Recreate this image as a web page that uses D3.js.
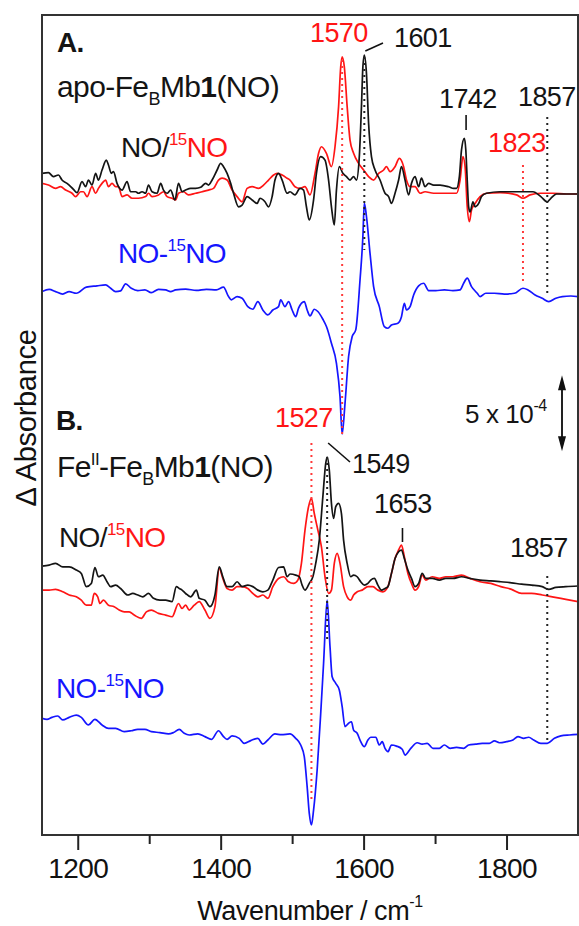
<!DOCTYPE html>
<html>
<head>
<meta charset="utf-8">
<script src="https://cdn.jsdelivr.net/npm/d3@7"></script>
<style>
  html, body { margin: 0; padding: 0; background: #fff; }
  svg { display: block; }
  text { font-family: "Liberation Sans", Arial, Helvetica, sans-serif; }
</style>
</head>
<body>
<svg id="chart" width="579" height="926"></svg>
<script>
// FTIR difference spectra, ΔA in units of 1e-4 relative to each trace's own baseline.
// Panel A: apo-FeBMb1(NO)
const apoNO = [[1150,1.36],[1159,1.41],[1166,1.14],[1173,1.25],[1178,0.92],[1185,0.70],[1194,0.31],[1199,0.09],[1206,0.81],[1211,0.48],[1215,0.92],[1220,0.59],[1225,1.36],[1229,0.92],[1234,1.58],[1240,2.23],[1243,1.91],[1247,1.36],[1250,1.47],[1255,0.70],[1262,0.26],[1269,0.81],[1274,0.15],[1281,0.15],[1285,0.05],[1290,0.15],[1295,0.05],[1299,0.59],[1304,0.15],[1311,0.05],[1316,0.70],[1320,0.26],[1325,0.05],[1330,0.26],[1336,-0.39],[1341,0.70],[1346,0.15],[1351,0.26],[1358,0.37],[1365,0.37],[1372,0.44],[1379,0.70],[1383,0.59],[1388,0.92],[1395,1.58],[1400,2.02],[1404,1.80],[1409,1.36],[1414,0.70],[1418,0.05],[1425,-0.84],[1430,-0.73],[1437,-0.17],[1444,-0.39],[1451,-0.62],[1455,-0.28],[1462,-0.51],[1467,-0.84],[1472,-0.17],[1476,0.92],[1481,1.36],[1486,0.92],[1493,0.05],[1497,0.15],[1504,-0.06],[1511,0.37],[1516,0.26],[1520,-0.84],[1524,-1.71],[1530,-0.39],[1534,1.36],[1540,2.46],[1546,2.23],[1551,0.92],[1555,-0.84],[1559,-2.04],[1562,0.26],[1566,1.80],[1571,1.36],[1576,1.14],[1581,0.92],[1586,1.14],[1590,0.92],[1594,2.46],[1597,5.75],[1599,8.38],[1601,9.14],[1604,7.94],[1607,4.65],[1611,2.46],[1616,1.58],[1623,0.92],[1630,0.05],[1635,-0.17],[1639,-0.62],[1644,0.05],[1649,0.92],[1653,1.80],[1658,0.92],[1663,-0.06],[1667,0.70],[1672,1.14],[1677,0.48],[1681,1.04],[1686,0.48],[1691,0.70],[1698,0.59],[1707,0.59],[1719,0.48],[1726,0.37],[1730,0.37],[1734,1.14],[1737,2.90],[1741,3.66],[1743,2.91],[1745,0.91],[1747,-0.84],[1749,-1.18],[1753,-0.51],[1756,-0.84],[1761,-0.62],[1765,-0.17],[1772,0.05],[1791,0.15],[1814,0.15],[1837,0.15],[1848,-0.17],[1857,-0.51],[1862,-0.28],[1870,0],[1884,0],[1900,0]];
const apo15NO = [[1150,0.70],[1159,0.59],[1169,0.37],[1176,0.48],[1183,0.26],[1192,0.05],[1197,-0.17],[1204,0.15],[1208,0.15],[1213,-0.17],[1220,0.48],[1225,0.05],[1229,0.37],[1234,0.70],[1239,0.92],[1243,0.48],[1248,0.70],[1253,0.48],[1257,0.48],[1262,-0.17],[1269,-0.06],[1276,-0.28],[1285,-0.28],[1295,-0.17],[1299,0.05],[1304,-0.17],[1313,-0.06],[1320,0.15],[1325,-0.17],[1332,-0.28],[1337,-0.39],[1341,0.05],[1348,0.15],[1355,-0.06],[1365,0.05],[1374,0.15],[1383,0.26],[1390,0.37],[1397,0.92],[1402,1.04],[1409,0.92],[1416,0.26],[1423,-0.17],[1430,-0.51],[1437,0.37],[1444,0.48],[1453,0.37],[1460,0.59],[1467,0.92],[1474,1.25],[1479,1.36],[1486,1.25],[1493,1.04],[1497,0.92],[1504,0.48],[1511,0.37],[1518,0.48],[1525,-0.06],[1532,1.36],[1537,2.68],[1541,3.11],[1548,2.68],[1555,1.80],[1560,3.11],[1565,5.75],[1568,8.38],[1570,9.03],[1573,8.38],[1577,5.75],[1581,3.55],[1586,2.68],[1593,2.02],[1600,1.58],[1607,1.14],[1614,0.92],[1621,1.36],[1628,1.58],[1632,1.80],[1637,1.47],[1644,1.80],[1650,2.34],[1656,1.80],[1660,0.92],[1665,0.48],[1672,0.48],[1679,0.05],[1686,0.15],[1698,0.05],[1716,0.05],[1730,0.05],[1735,0.92],[1739,2.46],[1742,1.80],[1745,-0.84],[1748,-1.82],[1751,-1.05],[1756,-0.62],[1763,-0.17],[1772,0.05],[1791,0.09],[1814,-0.06],[1823,-0.28],[1833,-0.06],[1847,0.05],[1865,0.05],[1884,0],[1900,0]];
const apoDiff = [[1150,-0.11],[1160,0.04],[1169,-0.11],[1179,-0.27],[1188,-0.11],[1198,-0.22],[1212,0.18],[1227,0.27],[1239,0.33],[1246,0.11],[1253,-0.11],[1260,-0.06],[1267,0.40],[1275,0.11],[1284,-0.04],[1294,0],[1303,-0.18],[1313,0.04],[1323,0],[1330,-0.11],[1337,0],[1351,0.05],[1366,-0.03],[1380,0.04],[1394,0],[1404,0.18],[1411,-0.44],[1415,-0.65],[1423,-0.44],[1430,-0.55],[1438,-1.10],[1445,-1.27],[1452,-0.77],[1459,-1.32],[1466,-1.64],[1473,-1.32],[1481,-1.10],[1484,-0.65],[1490,-1.10],[1495,-0.77],[1500,-1.32],[1505,-1.76],[1509,-1.20],[1517,-0.77],[1521,-1.32],[1525,-1.71],[1531,-1.27],[1536,-1.42],[1543,-1.93],[1548,-2.41],[1555,-3.51],[1562,-4.83],[1567,-7.02],[1570,-9.48],[1574,-7.46],[1579,-4.38],[1584,-3.07],[1589,-2.63],[1595,0.65],[1599,3.51],[1601,5.72],[1604,4.83],[1609,2.41],[1614,0.22],[1622,-1.10],[1629,-2.41],[1634,-2.52],[1639,-2.31],[1648,-2.19],[1653,-1.76],[1657,-0.88],[1660,-1.32],[1665,-1.10],[1670,-0.33],[1677,0.27],[1684,0.44],[1691,-0.04],[1701,-0.04],[1713,0],[1725,-0.04],[1735,0],[1740,0.44],[1745,0.77],[1751,0.22],[1759,-0.22],[1763,-0.44],[1771,-0.22],[1783,-0.22],[1797,-0.27],[1811,-0.22],[1823,0.11],[1830,0],[1840,-0.33],[1850,-0.55],[1859,-0.77],[1869,-0.55],[1878,-0.44],[1890,-0.40],[1900,-0.44]];

// Panel B: FeII-FeBMb1(NO)
const feNO = [[1150,0.70],[1160,0.77],[1169,0.88],[1179,0.65],[1188,0.65],[1198,0.44],[1205,0.22],[1212,-0.65],[1219,-0.44],[1224,0.61],[1229,0],[1235,0.11],[1241,-0.33],[1246,-0.65],[1253,-0.55],[1260,-0.77],[1270,-1.20],[1277,-1.10],[1284,-1.20],[1291,-1.32],[1299,-1.10],[1306,-1.42],[1315,-1.54],[1323,-1.54],[1332,-1.64],[1338,-0.65],[1342,-0.77],[1346,-0.88],[1351,-1.10],[1358,-1.32],[1366,-0.88],[1370,-1.42],[1378,-1.54],[1385,-1.97],[1392,-1.20],[1398,0.65],[1403,0],[1409,-0.65],[1416,-0.65],[1423,-0.33],[1430,-0.65],[1438,-0.55],[1445,-0.65],[1452,-0.88],[1459,-0.99],[1466,-0.88],[1473,-0.22],[1481,0.61],[1488,0.65],[1493,0],[1497,0.18],[1505,0.11],[1510,0],[1514,-0.55],[1518,-0.88],[1524,-0.44],[1529,0],[1533,0.88],[1538,2.41],[1543,5.27],[1547,7.46],[1549,7.88],[1552,7.02],[1555,4.83],[1558,3.84],[1561,4.61],[1565,4.83],[1569,4.16],[1572,2.41],[1577,0.88],[1582,0],[1586,0.11],[1591,0],[1596,-0.33],[1601,-0.55],[1606,-0.44],[1610,-0.22],[1615,-0.11],[1620,-0.55],[1625,-0.88],[1630,-0.77],[1634,-0.65],[1639,0.22],[1644,1.20],[1649,1.64],[1653,1.76],[1657,1.20],[1662,0.44],[1667,-0.11],[1672,-0.65],[1677,-0.44],[1682,0.22],[1687,-0.11],[1696,-0.11],[1706,-0.22],[1715,-0.11],[1725,-0.11],[1737,0],[1749,-0.11],[1763,-0.22],[1778,-0.27],[1792,-0.33],[1807,-0.40],[1821,-0.49],[1835,-0.55],[1850,-0.65],[1859,-0.83],[1869,-0.70],[1883,-0.65],[1900,-0.61]];
const fe15NO = [[1150,-0.88],[1160,-0.88],[1169,-0.83],[1179,-0.99],[1188,-1.20],[1198,-1.32],[1205,-1.54],[1212,-1.87],[1219,-1.87],[1223,-1.10],[1228,-1.32],[1231,-1.76],[1236,-1.54],[1243,-1.87],[1251,-1.97],[1258,-2.19],[1265,-2.31],[1272,-2.31],[1279,-2.52],[1289,-2.74],[1296,-2.31],[1303,-2.19],[1313,-2.41],[1323,-2.52],[1332,-2.63],[1341,-1.76],[1346,-2.09],[1351,-1.87],[1356,-2.19],[1363,-1.87],[1370,-1.64],[1378,-2.19],[1385,-2.74],[1392,-1.97],[1398,0.55],[1403,-0.11],[1409,-0.77],[1416,-0.88],[1423,-0.65],[1430,-0.65],[1438,-0.77],[1445,-1.10],[1452,-1.32],[1459,-1.20],[1466,-1.42],[1473,-0.65],[1481,-0.11],[1488,0],[1495,-0.33],[1502,-0.44],[1508,-0.22],[1513,0.88],[1518,3.07],[1523,4.61],[1527,5.15],[1531,4.16],[1536,3.07],[1541,1.97],[1546,0],[1551,-1.10],[1555,-0.88],[1559,0.88],[1563,1.54],[1567,0.88],[1572,-0.65],[1577,-1.32],[1582,-1.54],[1586,-1.20],[1591,-0.99],[1598,-0.88],[1606,-0.65],[1613,-0.65],[1620,-0.88],[1627,-0.99],[1634,-0.65],[1639,0.22],[1644,1.20],[1649,1.76],[1653,2.09],[1657,1.32],[1662,0.22],[1667,-0.44],[1672,-0.88],[1677,-0.65],[1682,0.11],[1687,-0.22],[1696,0],[1706,-0.11],[1715,0],[1725,0],[1737,0.11],[1749,-0.11],[1763,-0.33],[1778,-0.44],[1792,-0.65],[1807,-0.83],[1821,-1.10],[1835,-1.10],[1850,-1.20],[1864,-1.32],[1883,-1.49],[1900,-1.64]];
const feDiff = [[1150,1.42],[1157,1.36],[1164,1.49],[1172,1.58],[1179,1.32],[1188,1.49],[1198,1.64],[1205,1.49],[1215,0.99],[1224,1.36],[1234,0.99],[1243,0.77],[1253,0.77],[1265,0.55],[1275,0.61],[1284,0.70],[1294,0.70],[1303,0.55],[1315,0.49],[1327,0.40],[1334,0.49],[1342,0.70],[1349,0.44],[1356,0.33],[1368,0.40],[1378,0.22],[1387,0.04],[1397,0.61],[1404,0.22],[1409,0.04],[1416,0.27],[1426,0.11],[1433,-0.22],[1442,-0.04],[1452,0.11],[1459,-0.27],[1466,0],[1476,0.40],[1485,0.35],[1497,0.40],[1505,0.11],[1512,-0.33],[1517,-1.10],[1521,-3.07],[1524,-4.83],[1527,-5.59],[1530,-4.61],[1535,-1.97],[1540,1.76],[1544,5.05],[1549,9.21],[1553,6.14],[1556,4.16],[1561,3.73],[1566,3.29],[1570,2.19],[1574,0.88],[1579,1.10],[1583,1.20],[1586,0.65],[1591,0.44],[1596,-0.11],[1601,-0.44],[1606,0],[1610,0.18],[1617,0.18],[1622,-0.33],[1626,-0.11],[1630,-0.55],[1634,-0.77],[1639,-0.33],[1646,-0.40],[1654,-0.61],[1658,-0.99],[1666,-0.55],[1675,-0.18],[1682,-0.27],[1689,-0.22],[1697,-0.55],[1706,-0.55],[1713,-0.33],[1721,-0.55],[1730,-0.49],[1740,-0.55],[1747,-0.33],[1757,-0.27],[1766,-0.22],[1776,-0.22],[1783,-0.06],[1790,-0.18],[1800,-0.11],[1809,0],[1816,0.22],[1824,0.11],[1831,0.18],[1838,0],[1848,-0.22],[1857,-0.22],[1867,0.11],[1876,0.27],[1888,0.33],[1900,0.37]];

// Band positions marked with dotted guides: [wavenumber, top, bottom] on the stacked scale
const guidesRed = [[1570, 50.99, 26.32], [1823, 44.08, 36.40], [1527, 25.79, 2.17]];
const guidesBlack = [[1601, 51.18, 38.49], [1857, 47.24, 35.53], [1549, 24.87, 12.83], [1857, 17.04, 6.25]];

const majorTicks = [1200, 1400, 1600, 1800];
const minorTicks = [1300, 1500, 1700];

// Vertical stacking of the traces (1e-4 units)
const offsetA = 42.17, offsetADiff = 35.86, offsetB = 16.99, offsetBDiff = 6.25;
const scaleBar = [25.25, 30.25];   // 5 x 10^-4

const svg = d3.select("#chart");
const plotL = 42, plotR = 578, plotT = 15, plotB = 835;

const x = d3.scaleLinear().domain([1150, 1900]).range([plotL, plotR]);
const y = d3.scaleLinear().domain([0, (plotB - plotT) / 15.2]).range([plotB, plotT]);

svg.append("defs").append("clipPath").attr("id", "plotclip")
  .append("rect").attr("x", plotL).attr("y", plotT).attr("width", plotR - plotL).attr("height", plotB - plotT);

const plot = svg.append("g").attr("clip-path", "url(#plotclip)");

const COL = { black: "#141414", red: "#ff1515", blue: "#1515ff" };

function trace(data, offset, color) {
  const line = d3.line().x(d => x(d[0])).y(d => y(d[1] + offset)).curve(d3.curveMonotoneX);
  plot.append("path").datum(data)
    .attr("d", line)
    .attr("fill", "none")
    .attr("stroke", color)
    .attr("stroke-width", 1.7)
    .attr("stroke-linejoin", "round");
}

trace(apo15NO, offsetA, COL.red);
trace(apoNO, offsetA, COL.black);
trace(apoDiff, offsetADiff, COL.blue);
trace(fe15NO, offsetB, COL.red);
trace(feNO, offsetB, COL.black);
trace(feDiff, offsetBDiff, COL.blue);

// dotted guides
function guides(list, color) {
  plot.selectAll(null).data(list).enter().append("line")
    .attr("x1", d => x(d[0])).attr("x2", d => x(d[0]))
    .attr("y1", d => y(d[1])).attr("y2", d => y(d[2]))
    .attr("stroke", color).attr("stroke-width", 2)
    .attr("stroke-dasharray", "2,4");
}
guides(guidesRed, "#ff3a3a");
guides(guidesBlack, "#222");

// frame
svg.append("rect").attr("x", plotL).attr("y", plotT)
  .attr("width", plotR - plotL).attr("height", plotB - plotT)
  .attr("fill", "none").attr("stroke", "#333").attr("stroke-width", 2);

// bottom axis
const axis = d3.axisBottom(x).tickValues(majorTicks).tickSize(15).tickPadding(8).tickFormat(d3.format("d"));
const gx = svg.append("g").attr("transform", `translate(0,${plotB})`).call(axis);
gx.select(".domain").remove();
gx.selectAll(".tick line").attr("stroke", "#222").attr("stroke-width", 2);
gx.selectAll(".tick text").attr("font-size", 28).attr("fill", "#111")
  .attr("font-family", "'Liberation Sans', Arial, sans-serif").attr("letter-spacing", -0.6);
const gxMinor = svg.append("g").attr("transform", `translate(0,${plotB})`)
  .call(d3.axisBottom(x).tickValues(minorTicks).tickSize(9).tickFormat(""));
gxMinor.select(".domain").remove();
gxMinor.selectAll(".tick line").attr("stroke", "#222").attr("stroke-width", 2);

// axis titles
const xt = svg.append("text").attr("x", 310).attr("y", 920).attr("text-anchor", "middle")
  .attr("font-size", 27).attr("fill", "#111").attr("letter-spacing", -0.4);
xt.append("tspan").text("Wavenumber / cm");
xt.append("tspan").attr("font-size", 16).attr("dy", -13).text("-1");

svg.append("text").attr("transform", "translate(36,418) rotate(-90)")
  .attr("text-anchor", "middle").attr("font-size", 29).attr("fill", "#111")
  .attr("letter-spacing", -0.3).text("Δ Absorbance");

// helper for labels
function label(xp, yp, size, parts, opts = {}) {
  const t = svg.append("text").attr("x", xp).attr("y", yp).attr("font-size", size)
    .attr("letter-spacing", opts.ls ?? -0.6).attr("fill", opts.color || COL.black);
  if (opts.anchor) t.attr("text-anchor", opts.anchor);
  parts.forEach(p => {
    const s = t.append("tspan").text(p.t);
    if (p.c) s.attr("fill", p.c);
    if (p.s) s.attr("font-size", p.s);
    if (p.dy) s.attr("dy", p.dy);
    if (p.b) s.attr("font-weight", "bold");
  });
  return t;
}

// Panel A
label(57, 52, 28, [{ t: "A.", b: true }]);
label(57, 97, 30, [{ t: "apo-Fe" }, { t: "B", s: 18, dy: 8 }, { t: "Mb", dy: -8 }, { t: "1", b: true }, { t: "(NO)" }]);
label(121, 157, 28, [{ t: "NO/" }, { t: "15", c: COL.red, s: 17, dy: -12 }, { t: "NO", c: COL.red, dy: 12 }]);
label(118, 263, 28, [{ t: "NO-" }, { t: "15", s: 17, dy: -12 }, { t: "NO", dy: 12 }], { color: COL.blue });

label(310, 42, 27, [{ t: "1570" }], { color: COL.red });
label(394, 47, 27, [{ t: "1601" }]);
label(439, 108, 27, [{ t: "1742" }]);
label(518, 106, 27, [{ t: "1857" }]);
label(488, 152, 27, [{ t: "1823" }], { color: COL.red });

// Panel B
label(56, 430, 28, [{ t: "B.", b: true }]);
label(57, 477, 30, [{ t: "Fe" }, { t: "II", s: 17, dy: -12 }, { t: "-Fe", dy: 12 }, { t: "B", s: 18, dy: 8 }, { t: "Mb", dy: -8 }, { t: "1", b: true }, { t: "(NO)" }]);
label(59, 547, 28, [{ t: "NO/" }, { t: "15", c: COL.red, s: 17, dy: -12 }, { t: "NO", c: COL.red, dy: 12 }]);
label(56, 698, 28, [{ t: "NO-" }, { t: "15", s: 17, dy: -12 }, { t: "NO", dy: 12 }], { color: COL.blue });

label(275, 427, 27, [{ t: "1527" }], { color: COL.red });
label(352, 473, 27, [{ t: "1549" }]);
label(374, 513, 27, [{ t: "1653" }]);
label(510, 557, 27, [{ t: "1857" }]);

// leader lines and band ticks
const leaders = [
  [x(1601) + 1, 51, 383, 43],
  [x(1549) + 1, 443, 350, 462],
  [x(1742) + 1, 115, x(1742) + 1, 130],
  [x(1653) + 1, 528, x(1653) + 1, 542]
];
svg.selectAll(null).data(leaders).enter().append("line")
  .attr("x1", d => d[0]).attr("y1", d => d[1]).attr("x2", d => d[2]).attr("y2", d => d[3])
  .attr("stroke", "#111").attr("stroke-width", 1.6);

// scale bar 5 x 10^-4
const sbx = 562, sbTop = y(scaleBar[1]), sbBot = y(scaleBar[0]);
svg.append("line").attr("x1", sbx).attr("x2", sbx).attr("y1", sbTop + 10).attr("y2", sbBot - 10)
  .attr("stroke", "#222").attr("stroke-width", 2);
svg.append("path").attr("d", `M${sbx},${sbTop} L${sbx - 4},${sbTop + 15} L${sbx + 4},${sbTop + 15} Z`).attr("fill", "#111");
svg.append("path").attr("d", `M${sbx},${sbBot} L${sbx - 4},${sbBot - 15} L${sbx + 4},${sbBot - 15} Z`).attr("fill", "#111");
label(465, 423, 26, [{ t: "5 x 10" }, { t: "-4", s: 16, dy: -12 }], { ls: -0.4 });
</script>
</body>
</html>
